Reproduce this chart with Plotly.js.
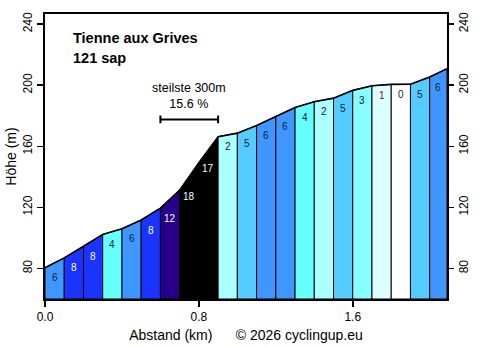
<!DOCTYPE html>
<html>
<head>
<meta charset="utf-8">
<script src="https://cdn.plot.ly/plotly-3.0.1.min.js"></script>
<style>
  html, body { margin: 0; padding: 0; background: #fff; }
  #chart { width: 488px; height: 346px; }
</style>
</head>
<body>
<div id="chart"></div>
<script>
// Climb profile: distance (km) and altitude (m) at every 100 m marker
const distKm = [0.0, 0.1, 0.2, 0.3, 0.4, 0.5, 0.6, 0.7, 0.8, 0.9, 1.0,
                1.1, 1.2, 1.3, 1.4, 1.5, 1.6, 1.7, 1.8, 1.9, 2.0, 2.09];
const elevM  = [80.5, 86.9, 94.5, 102.3, 106.0, 111.7, 119.5, 131.3, 149.3, 166.3, 168.6,
                173.6, 179.5, 185.4, 189.2, 191.5, 196.6, 199.6, 200.5, 200.6, 205.3, 210.8];
const xTicks = [0.0, 0.8, 1.6];
const yTicks = [80, 120, 160, 200, 240];
const climbName = "Tienne aux Grives";
const climbNote = "121 sap";

const FONT = "Liberation Sans, Arial, Helvetica, sans-serif";
const Y_MIN = 60, Y_MAX = 246.6;

// colour scale by gradient (%)
function gradeColor(g) {
  if (g <= 0) return "#ffffff";
  if (g === 1) return "#ddffff";
  if (g === 2) return "#aaffff";
  if (g === 3) return "#88ffff";
  if (g === 4) return "#66ffff";
  if (g === 5) return "#55ccff";
  if (g === 6) return "#4096ff";
  if (g <= 8) return "#1a33ff";
  if (g <= 12) return "#280088";
  return "#000000";
}

// label colour for the gradient numbers
function labelColor(g) {
  if (g >= 7) return "#ffffff";
  if (g === 1) return "#701030";
  return "#1a1a3a";
}

const traces = [];
const annotations = [];

for (let i = 0; i < distKm.length - 1; i++) {
  const x0 = distKm[i], x1 = distKm[i + 1];
  const e0 = elevM[i], e1 = elevM[i + 1];
  const grade = Math.round((e1 - e0) / ((x1 - x0) * 1000) * 100);
  traces.push({
    type: "scatter", mode: "lines",
    x: [x0, x0, x1, x1, x0],
    y: [Y_MIN, e0, e1, Y_MIN, Y_MIN],
    fill: "toself", fillcolor: gradeColor(grade),
    line: { color: "#000", width: 1 },
    hoverinfo: "skip", showlegend: false
  });
  annotations.push({
    x: (x0 + x1) / 2, y: e0, xref: "x", yref: "y",
    text: String(grade), showarrow: false,
    yanchor: "middle", yshift: grade >= 15 ? -6 : -10,
    font: { family: FONT, size: 10, color: labelColor(grade) }
  });
}

// profile outline
traces.push({
  type: "scatter", mode: "lines", x: distKm, y: elevM,
  line: { color: "#000", width: 1.6 }, hoverinfo: "skip", showlegend: false
});

// steepest 300 m stretch
let best = { i: 0, g: -Infinity };
for (let i = 0; i + 3 < distKm.length; i++) {
  const g = (elevM[i + 3] - elevM[i]) / ((distKm[i + 3] - distKm[i]) * 1000) * 100;
  if (g > best.g) best = { i, g };
}
const sx0 = distKm[best.i], sx1 = distKm[best.i + 3];
const sy = elevM[best.i + 3] + 11.3;
traces.push({
  type: "scatter", mode: "lines",
  x: [sx0, sx0, sx0, sx1, sx1, sx1],
  y: [sy - 2.5, sy + 2.5, sy, sy, sy + 2.5, sy - 2.5],
  line: { color: "#000", width: 2 }, hoverinfo: "skip", showlegend: false
});
annotations.push({
  x: (sx0 + sx1) / 2, y: sy, xref: "x", yref: "y", showarrow: false,
  text: "steilste 300m<br>" + best.g.toFixed(1) + " %",
  yanchor: "bottom", yshift: 6,
  font: { family: FONT, size: 12.5, color: "#000" }
});

// right-hand axis carrier
traces.push({
  type: "scatter", mode: "lines", x: [distKm[0]], y: [elevM[0]], yaxis: "y2",
  line: { width: 0 }, opacity: 0, hoverinfo: "skip", showlegend: false
});

annotations.push({
  x: 0.0647, y: 0.915, xref: "paper", yref: "paper", xanchor: "left", yanchor: "middle",
  text: "<b>" + climbName + "</b>", showarrow: false,
  font: { family: FONT, size: 14.5, color: "#000" }
});
annotations.push({
  x: 0.0647, y: 0.845, xref: "paper", yref: "paper", xanchor: "left", yanchor: "middle",
  text: "<b>" + climbNote + "</b>", showarrow: false,
  font: { family: FONT, size: 14.5, color: "#000" }
});

const yAxisCommon = {
  range: [Y_MIN, Y_MAX], tickvals: yTicks, ticktext: yTicks.map(String),
  tickangle: -90, ticks: "outside", ticklen: 6, tickwidth: 1.5, tickcolor: "#000",
  showgrid: false, zeroline: false,
  tickfont: { family: FONT, size: 12, color: "#000" }
};

const layout = {
  width: 488, height: 346,
  margin: { l: 45, r: 41, t: 14, b: 47 },
  paper_bgcolor: "#fff", plot_bgcolor: "#fff",
  showlegend: false,
  xaxis: {
    range: [0, distKm[distKm.length - 1]],
    tickvals: xTicks, ticktext: xTicks.map(v => v.toFixed(1)),
    ticks: "outside", ticklen: 6, tickwidth: 1.5, tickcolor: "#000",
    showline: true, linewidth: 2, linecolor: "#000", mirror: true,
    showgrid: false, zeroline: false,
    tickfont: { family: FONT, size: 12, color: "#000" },
    title: {
      text: "Abstand (km)\u00a0\u00a0\u00a0\u00a0\u00a0\u00a0© 2026 cyclingup.eu",
      font: { family: FONT, size: 14, color: "#000" }, standoff: 7
    }
  },
  yaxis: Object.assign({}, yAxisCommon, {
    showline: true, linewidth: 2, linecolor: "#000", mirror: true,
    title: { text: "Höhe (m)", font: { family: FONT, size: 14, color: "#000" }, standoff: 1 }
  }),
  yaxis2: Object.assign({}, yAxisCommon, {
    overlaying: "y", side: "right", showline: false
  }),
  annotations: annotations
};

Plotly.newPlot("chart", traces, layout, { staticPlot: true, displayModeBar: false });
</script>
</body>
</html>
